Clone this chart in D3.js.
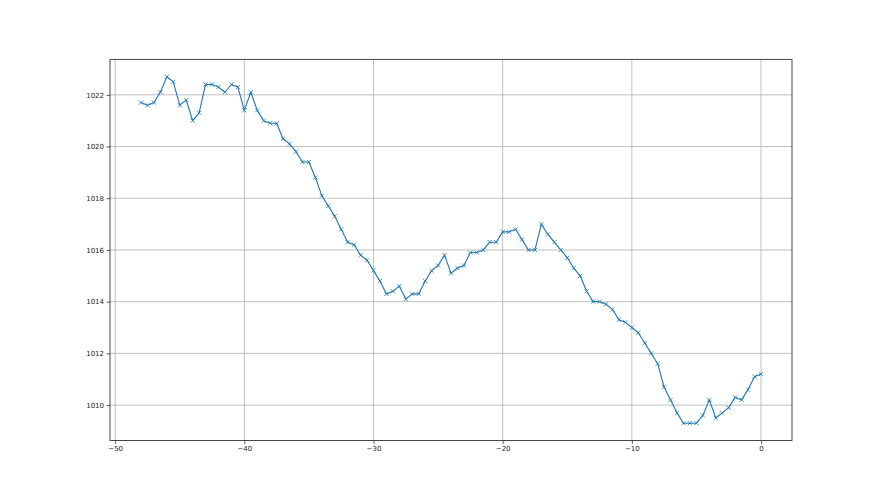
<!DOCTYPE html>
<html>
<head>
<meta charset="utf-8">
<script src="https://cdn.jsdelivr.net/npm/d3@7"></script>
<style>
  body { margin: 0; background: #fff; }
  svg { display: block; }
  .tick text { font-family: "DejaVu Sans", sans-serif; font-size: 7px; fill: #222; }
</style>
</head>
<body>
<svg class="plotid" width="880" height="495"></svg>
<script>
// hours relative to now
var hours = [-48, -47.5, -47, -46.5, -46, -45.5, -45, -44.5, -44, -43.5, -43, -42.5, -42, -41.5, -41, -40.5,
  -40, -39.5, -39, -38.5, -38, -37.5, -37, -36.5, -36, -35.5, -35, -34.5, -34, -33.5, -33, -32.5,
  -32, -31.5, -31, -30.5, -30, -29.5, -29, -28.5, -28, -27.5, -27, -26.5, -26, -25.5, -25, -24.5,
  -24, -23.5, -23, -22.5, -22, -21.5, -21, -20.5, -20, -19.5, -19, -18.5, -18, -17.5, -17, -16.5,
  -16, -15.5, -15, -14.5, -14, -13.5, -13, -12.5, -12, -11.5, -11, -10.5, -10, -9.5, -9, -8.5,
  -8, -7.5, -7, -6.5, -6, -5.5, -5, -4.5, -4, -3.5, -3, -2.5, -2, -1.5, -1, -0.5, 0];

// pressure, hPa
var pressure = [1021.7, 1021.6, 1021.7, 1022.1, 1022.7, 1022.5, 1021.6, 1021.8, 1021.0, 1021.3, 1022.4, 1022.4, 1022.3, 1022.1, 1022.4, 1022.3,
  1021.4, 1022.1, 1021.4, 1021.0, 1020.9, 1020.9, 1020.3, 1020.1, 1019.8, 1019.4, 1019.4, 1018.8, 1018.1, 1017.7, 1017.3, 1016.8,
  1016.3, 1016.2, 1015.8, 1015.6, 1015.2, 1014.8, 1014.3, 1014.4, 1014.6, 1014.1, 1014.3, 1014.3, 1014.8, 1015.2, 1015.4, 1015.8,
  1015.1, 1015.3, 1015.4, 1015.9, 1015.9, 1016.0, 1016.3, 1016.3, 1016.7, 1016.7, 1016.8, 1016.4, 1016.0, 1016.0, 1017.0, 1016.6,
  1016.3, 1016.0, 1015.7, 1015.3, 1015.0, 1014.4, 1014.0, 1014.0, 1013.9, 1013.7, 1013.3, 1013.2, 1013.0, 1012.8, 1012.4, 1012.0,
  1011.6, 1010.7, 1010.2, 1009.7, 1009.3, 1009.3, 1009.3, 1009.6, 1010.2, 1009.5, 1009.7, 1009.9, 1010.3, 1010.2, 1010.6, 1011.1, 1011.2];

var xTicks = [-50, -40, -30, -20, -10, 0];
var yTicks = [1010, 1012, 1014, 1016, 1018, 1020, 1022];

var data = hours.map(function(h, i) { return {Time: h, P: pressure[i]}; });

var plotid = d3.select(".plotid"),
    margin = {top: 59.4, right: 88, bottom: 54.5, left: 110},
    width = +plotid.attr("width") - margin.left - margin.right,
    height = +plotid.attr("height") - margin.top - margin.bottom,
    g = plotid.append("g").attr("transform", "translate(" + margin.left + "," + margin.top + ")");

// matplotlib style 5% margins
var xext = d3.extent(hours), yext = d3.extent(pressure);
var xpad = (xext[1] - xext[0]) * 0.05, ypad = (yext[1] - yext[0]) * 0.05;

var x = d3.scaleLinear()
    .domain([xext[0] - xpad, xext[1] + xpad])
    .range([0, width]);

var y = d3.scaleLinear()
    .domain([yext[0] - ypad, yext[1] + ypad])
    .range([height, 0]);

// grid
g.append("g")
  .selectAll("line").data(xTicks).enter().append("line")
    .attr("x1", function(d) { return x(d); })
    .attr("x2", function(d) { return x(d); })
    .attr("y1", 0).attr("y2", height)
    .attr("stroke", "#b0b0b0").attr("stroke-width", 0.8);

g.append("g")
  .selectAll("line").data(yTicks).enter().append("line")
    .attr("y1", function(d) { return y(d); })
    .attr("y2", function(d) { return y(d); })
    .attr("x1", 0).attr("x2", width)
    .attr("stroke", "#b0b0b0").attr("stroke-width", 0.8);

var line = d3.line()
    .x(function(d) { return x(d.Time); })
    .y(function(d) { return y(d.P); });

g.append("path")
    .datum(data)
    .attr("fill", "none")
    .attr("stroke", "#1f77b4")
    .attr("stroke-linejoin", "round")
    .attr("stroke-linecap", "round")
    .attr("stroke-width", 1.1)
    .attr("d", line);

// 'x' markers
var m = 2.1;
g.append("g")
  .selectAll("path").data(data).enter().append("path")
    .attr("d", function(d) {
      var cx = x(d.Time), cy = y(d.P);
      return "M" + (cx - m) + "," + (cy - m) + "L" + (cx + m) + "," + (cy + m) +
             "M" + (cx - m) + "," + (cy + m) + "L" + (cx + m) + "," + (cy - m);
    })
    .attr("stroke", "#1f77b4")
    .attr("stroke-width", 0.8)
    .attr("fill", "none");

// axes
var xAxis = g.append("g")
    .attr("transform", "translate(0," + height + ")")
    .call(d3.axisBottom(x).tickValues(xTicks).tickSize(3.5).tickPadding(2.5).tickFormat(d3.format("d")));

var yAxis = g.append("g")
    .call(d3.axisLeft(y).tickValues(yTicks).tickSize(3.5).tickPadding(2.5).tickFormat(d3.format("d")));

[xAxis, yAxis].forEach(function(a) {
  a.select(".domain").remove();
  a.selectAll(".tick line").attr("stroke", "#333").attr("stroke-width", 0.8);
});

// spines
g.append("rect")
    .attr("width", width)
    .attr("height", height)
    .attr("fill", "none")
    .attr("stroke", "#333")
    .attr("stroke-width", 0.9);
</script>
</body>
</html>
